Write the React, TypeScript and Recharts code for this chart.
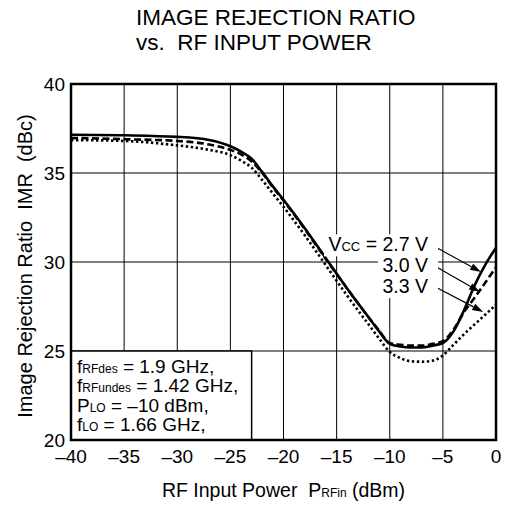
import { LineChart, Line, XAxis, YAxis, CartesianGrid, ReferenceArea, ReferenceLine, ReferenceDot } from "recharts"

const FONT = "'Liberation Sans', Arial, Helvetica, sans-serif"

// RF input power (dBm)
const rfInputPower = [-40, -35, -30, -27, -25, -24, -23, -22, -21, -20, -18, -16, -14, -12, -11, -10, -9, -8, -7, -6, -5, -4, -3, -2, -1, 0]
// image rejection ratio (dBc) per Vcc
const imrVcc27 = [37.15, 37.12, 37.03, 36.85, 36.5, 36.2, 35.8, 35.05, 34.25, 33.5, 31.9, 30.2, 28.5, 26.9, 26.1, 25.4, 25.25, 25.2, 25.2, 25.3, 25.45, 26.1, 27.3, 28.7, 29.85, 30.8]
const imrVcc30 = [36.97, 36.9, 36.8, 36.6, 36.3, 36.05, 35.65, 35.0, 34.2, 33.45, 31.85, 30.15, 28.5, 26.9, 26.15, 25.45, 25.35, 25.3, 25.3, 25.4, 25.55, 26.2, 27.2, 28.0, 28.85, 29.7]
const imrVcc33 = [36.85, 36.8, 36.55, 36.3, 36.0, 35.7, 35.3, 34.6, 33.85, 33.1, 31.5, 29.8, 28.1, 26.5, 25.7, 24.95, 24.6, 24.42, 24.4, 24.45, 24.75, 25.35, 25.95, 26.5, 27.05, 27.6]

const xTicks = [-40, -35, -30, -25, -20, -15, -10, -5, 0]
const yTicks = [20, 25, 30, 35, 40]

const vccNames = ["2.7 V", "3.0 V", "3.3 V"]
// label anchor = right end / baseline of the text
const vccLabelX = [-6.4, -6.4, -6.4]
const vccLabelY = [30.6, 29.45, 28.25]
const arrowFrom = [{ x: -5.7, y: 30.84 }, { x: -5.6, y: 29.72 }, { x: -5.7, y: 28.6 }]
const arrowTo = [{ x: -1.4, y: 29.44 }, { x: -1.5, y: 28.31 }, { x: -1.2, y: 27.19 }]

const data = rfInputPower.map((p, i) => ({ p, v27: imrVcc27[i], v30: imrVcc30[i], v33: imrVcc33[i] }))

const minus = (v: number) => (v < 0 ? `\u2013${Math.abs(v)}` : `${v}`)

function Arrow(props: any) {
  const { x1, y1, x2, y2 } = props
  const a = Math.atan2(y2 - y1, x2 - x1)
  const len = 11
  const half = 3.5
  const bx = x2 - len * Math.cos(a)
  const by = y2 - len * Math.sin(a)
  const px = -Math.sin(a) * half
  const py = Math.cos(a) * half
  return (
    <g>
      <line x1={x1} y1={y1} x2={bx} y2={by} stroke="#000" strokeWidth={1.2} />
      <polygon points={`${x2},${y2} ${bx + px},${by + py} ${bx - px},${by - py}`} fill="#000" />
    </g>
  )
}

function VccLabel({ cx, cy, index }: any) {
  const first = index === 0
  const w = first ? 104 : 50
  return (
    <g>
      <rect x={cx - w} y={cy - 17} width={w + 10} height={22} fill="#fff" />
      <text x={cx} y={cy} textAnchor="end" fontSize={19.5} fontFamily={FONT} fill="#000">
        {first ? (
          <>
            V<tspan fontSize={13}>CC</tspan> = {vccNames[index]}
          </>
        ) : (
          vccNames[index]
        )}
      </text>
    </g>
  )
}

function ConditionsBox({ x, y, width, height }: any) {
  const tx = x + 6
  const lines = [
    ["f", "RFdes", " = 1.9 GHz,"],
    ["f", "RFundes", " = 1.42 GHz,"],
    ["P", "LO", " = \u201310 dBm,"],
    ["f", "LO", " = 1.66 GHz,"],
  ]
  return (
    <g>
      <rect x={x} y={y} width={width} height={height} fill="#fff" stroke="#000" strokeWidth={1.5} />
      {lines.map((l, i) => (
        <text key={i} x={tx} y={y + 22 + i * 19.3} fontSize={19} fontFamily={FONT} fill="#000">
          {l[0]}
          <tspan fontSize={12}>{l[1]}</tspan>
          {l[2]}
        </text>
      ))}
    </g>
  )
}

function Frame({ x, y, width, height }: any) {
  return <rect x={x} y={y} width={width} height={height} fill="none" stroke="#000" strokeWidth={2.5} />
}

export default function App() {
  return (
    <div style={{ position: "absolute", left: 0, top: 0, width: 506, height: 510, background: "#fff" }}>
      <svg width={506} height={60} style={{ position: "absolute", left: 0, top: 0 }}>
        <text x={136} y={25} fontSize={22.5} fontFamily={FONT} fill="#000">IMAGE REJECTION RATIO</text>
        <text x={136} y={50} fontSize={22.5} fontFamily={FONT} fill="#000" style={{ whiteSpace: "pre" }}>vs.  RF INPUT POWER</text>
      </svg>
      <LineChart width={506} height={510} data={data} margin={{ top: 84, right: 10, bottom: 40, left: 11 }}>
        <CartesianGrid stroke="#000" strokeWidth={1} />
        <XAxis
          type="number"
          dataKey="p"
          domain={[-40, 0]}
          ticks={xTicks}
          interval={0}
          allowDataOverflow
          tickLine={false}
          axisLine={false}
          tickMargin={4}
          height={30}
          tickFormatter={minus}
          tick={{ fontSize: 19, fill: "#000", fontFamily: FONT }}
          label={(p: any) => {
            const vb = p.viewBox
            return (
              <text x={vb.x + vb.width / 2} y={497} textAnchor="middle" fontSize={19.5} fontFamily={FONT} fill="#000" style={{ whiteSpace: "pre" }}>
                RF Input Power  P<tspan fontSize={12}>RFin</tspan> (dBm)
              </text>
            )
          }}
        />
        <YAxis
          type="number"
          domain={[20, 40]}
          ticks={yTicks}
          interval={0}
          allowDataOverflow
          tickLine={false}
          axisLine={false}
          tickSize={6}
          tickMargin={0}
          width={60}
          tick={{ fontSize: 19, fill: "#000", fontFamily: FONT }}
          label={(p: any) => {
            const vb = p.viewBox
            const cx = vb.x + 14
            const cy = vb.y + vb.height / 2 + 4
            return (
              <text x={cx} y={cy} transform={`rotate(-90 ${cx} ${cy})`} textAnchor="middle" dominantBaseline="central" fontSize={20} fontFamily={FONT} fill="#000" style={{ whiteSpace: "pre" }}>
                Image Rejection Ratio  IMR  (dBc)
              </text>
            )
          }}
        />
        <ReferenceArea x1={-40} x2={-23} y1={20} y2={25} shape={ConditionsBox} />
        {vccNames.map((n, i) => (
          <ReferenceDot key={n} x={vccLabelX[i]} y={vccLabelY[i]} shape={(p: any) => <VccLabel {...p} index={i} />} />
        ))}
        {vccNames.map((n, i) => (
          <ReferenceLine key={`a-${n}`} segment={[arrowFrom[i], arrowTo[i]]} shape={Arrow} />
        ))}
        <Line type="monotone" dataKey="v27" stroke="#000" strokeWidth={2.6} dot={false} isAnimationActive={false} />
        <Line type="monotone" dataKey="v30" stroke="#000" strokeWidth={2.6} strokeDasharray="7 3.5" dot={false} isAnimationActive={false} />
        <Line type="monotone" dataKey="v33" stroke="#000" strokeWidth={2.6} strokeDasharray="2.4 2.6" dot={false} isAnimationActive={false} />
        <ReferenceArea x1={-40} x2={0} y1={20} y2={40} shape={Frame} />
      </LineChart>
    </div>
  )
}
